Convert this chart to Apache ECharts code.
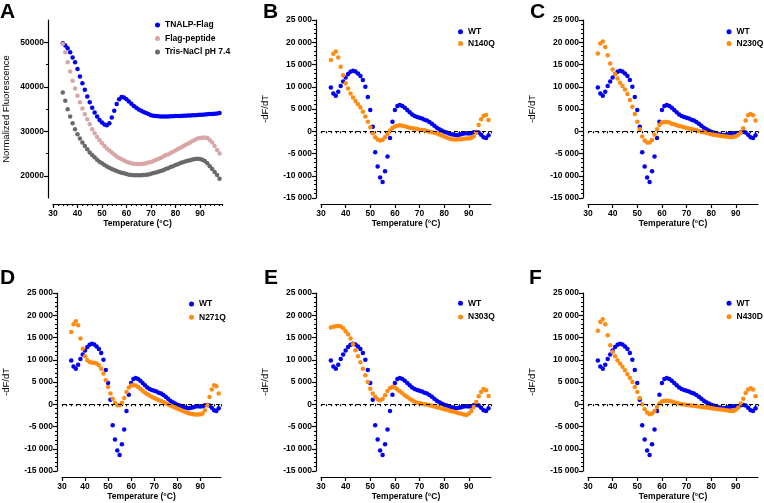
<!DOCTYPE html>
<html>
<head>
<meta charset="utf-8">
<script src="https://cdn.jsdelivr.net/npm/echarts@6/dist/echarts.min.js"></script>
<style>
  html, body { margin: 0; padding: 0; background: #fff; }
  #chart { width: 764px; height: 503px; }
</style>
</head>
<body>
<div id="chart"></div>
<script>
// temperature steps (°C)
const temps = [34, 35, 36, 37, 38, 39, 40, 41, 42, 43, 44, 45, 46, 47, 48, 49, 50, 51, 52, 53,
  54, 55, 56, 57, 58, 59, 60, 61, 62, 63, 64, 65, 66, 67, 68, 69, 70, 71, 72, 73,
  74, 75, 76, 77, 78, 79, 80, 81, 82, 83, 84, 85, 86, 87, 88, 89, 90, 91, 92, 93,
  94, 95, 96, 97, 98]

// panel A: normalized fluorescence
const tnalpFlag = [49800, 49250, 48650, 47750, 46600, 45500, 44000, 42300, 40800, 39300,
  37800, 36500, 35300, 34200, 33300, 32550, 31950, 31500, 31350, 31800,
  33100, 34600, 36100, 37200, 37700, 37600, 37200, 36700, 36200, 35700,
  35300, 34900, 34600, 34300, 34100, 33900, 33600, 33500, 33400, 33350,
  33300, 33300, 33300, 33300, 33350, 33350, 33400, 33450, 33450, 33500,
  33500, 33550, 33550, 33600, 33600, 33650, 33700, 33700, 33750, 33800,
  33850, 33900, 33950, 34000, 34100]
const flagPeptide = [49600, 47750, 45500, 43400, 41350, 39600, 38000, 36500, 35100, 33800,
  32700, 31600, 30450, 29550, 28700, 28000, 27300, 26700, 26150, 25650,
  25200, 24750, 24350, 24000, 23700, 23400, 23150, 22950, 22800, 22700,
  22650, 22650, 22650, 22700, 22800, 22950, 23100, 23300, 23550, 23750,
  24000, 24300, 24600, 24800, 25100, 25400, 25700, 26000, 26300, 26600,
  26900, 27200, 27500, 27800, 28100, 28350, 28500, 28550, 28600, 28500,
  28050, 27450, 26700, 25800, 25000]
const trisNaCl = [38700, 36850, 34950, 33300, 31800, 30450, 29300, 28350, 27450, 26700,
  25950, 25250, 24650, 24150, 23600, 23150, 22800, 22400, 22100, 21800,
  21500, 21300, 21050, 20850, 20700, 20550, 20400, 20250, 20150, 20100,
  20100, 20100, 20100, 20150, 20250, 20300, 20450, 20600, 20750, 20900,
  21050, 21250, 21500, 21700, 21950, 22150, 22400, 22600, 22850, 23050,
  23200, 23350, 23500, 23650, 23750, 23800, 23750, 23600, 23300, 22800,
  22150, 21500, 20850, 20150, 19300]

// panels B-F: -dF/dT
const wt = [9850, 8500, 8000, 8900, 10150, 11200, 12100, 12850, 13350, 13600,
  13450, 13000, 12400, 11500, 10000, 7700, 4800, 1000, -4700, -7900,
  -10400, -11400, -9000, -5700, -1500, 2150, 4800, 5650, 5900, 5650,
  5300, 4800, 4250, 3750, 3450, 3200, 3050, 2850, 2600, 2400,
  2100, 1700, 1250, 800, 450, 150, -100, -300, -500, -650,
  -800, -900, -800, -650, -500, -450, -500, -450, -200, -150,
  -300, -800, -1350, -1500, -900]
const n140q = [16000, 17400, 17900, 16600, 14500, 12600, 10800, 9600, 8500, 7600,
  6800, 6050, 5350, 4400, 3300, 2150, 900, -450, -1350, -1850,
  -2100, -1950, -1350, -600, 150, 750, 1050, 1250, 1350, 1250,
  1100, 950, 800, 650, 600, 500, 350, 300, 200, 50,
  -100, -200, -350, -500, -750, -950, -1200, -1400, -1650, -1800,
  -1850, -1850, -1800, -1800, -1700, -1650, -1650, -1500, -1200, -300,
  1400, 2700, 3500, 3650, 2550]
const n230q = [17450, 19700, 20150, 18950, 17100, 15200, 13900, 12850, 11850, 10900,
  10150, 9400, 8350, 7000, 5500, 3900, 2150, 450, -1200, -2100,
  -2550, -2550, -1950, -800, 450, 1400, 1950, 2100, 2100, 1950,
  1700, 1550, 1350, 1200, 1050, 900, 750, 600, 500, 350,
  200, 50, -100, -200, -350, -500, -650, -800, -900, -950,
  -1050, -1100, -1200, -1250, -1350, -1250, -1100, -800, -300, 650,
  2400, 3600, 3900, 3600, 2400]
const n271q = [16250, 18000, 18650, 17750, 14750, 12500, 10800, 9900, 9500, 9350,
  9300, 9150, 8750, 8000, 6900, 5400, 3900, 2400, 1250, 300,
  -200, -200, 350, 1400, 2750, 3750, 4200, 4250, 4200, 3900,
  3500, 3050, 2600, 2250, 1950, 1650, 1400, 1200, 950, 750,
  500, 200, 0, -300, -500, -750, -950, -1200, -1400, -1650,
  -1850, -2000, -2150, -2250, -2300, -2300, -2250, -2100, -1350, -200,
  1650, 3300, 4250, 4050, 2400]
const n303q = [17250, 17400, 17550, 17600, 17450, 17100, 16400, 15750, 14750, 13500,
  12150, 10800, 9450, 8000, 6500, 5000, 3500, 2400, 1650, 1100,
  900, 1200, 2000, 3000, 3650, 3900, 3750, 3300, 2900, 2450,
  2000, 1650, 1250, 900, 600, 350, 200, 100, 0, -50,
  -200, -350, -500, -650, -800, -950, -1100, -1250, -1400, -1550,
  -1700, -1850, -2000, -2150, -2300, -2400, -2100, -1500, -600, 500,
  1800, 2750, 3450, 3150, 1850]
const n430d = [16500, 18500, 19100, 18000, 15500, 13250, 11750, 10800, 9900, 9150,
  8400, 7650, 6750, 5900, 5000, 3900, 2750, 1400, 0, -1100,
  -1850, -2250, -2100, -1500, -600, 150, 600, 800, 800, 750,
  600, 450, 300, 150, 0, -50, -150, -200, -300, -350,
  -450, -500, -600, -650, -750, -800, -900, -950, -1050, -1100,
  -1200, -1250, -1350, -1400, -1500, -1500, -1250, -750, 150, 1250,
  2550, 3300, 3600, 3300, 1800]

// tick labels
const xTicks = [30, 40, 50, 60, 70, 80, 90]
const yTicksA = [20000, 30000, 40000, 50000]
const yMinorA = [25000, 35000, 45000]
const yTicksDeriv = [-15000, -10000, -5000, 0, 5000, 10000, 15000, 20000, 25000]

const blue = '#0000f5'
const orange = '#ff8c10'
const font = '"Liberation Sans", Arial, sans-serif'

const panels = [
  { letter: 'A', left: 52, top: 20, lx: 0, ly: 2, yMin: 15000, yMax: 55000, yName: 'Normalized Fluorescence', yGap: 37,
    legend: [155, 20, 3.5],
    series: [['TNALP-Flag', tnalpFlag, blue], ['Flag-peptide', flagPeptide, '#d8a6a6'], ['Tris-NaCl pH 7.4', trisNaCl, '#6a6a6a']] },
  { letter: 'B', left: 321, top: 20, lx: 263, ly: 2, legend: [458, 26.7, 1.7], series: [['WT', wt, blue], ['N140Q', n140q, orange]] },
  { letter: 'C', left: 588, top: 20, lx: 530, ly: 2, legend: [726.5, 26.7, 1.7], series: [['WT', wt, blue], ['N230Q', n230q, orange]] },
  { letter: 'D', left: 51, top: 293, lx: 0, ly: 268, legend: [189, 299, 3.3], series: [['WT', wt, blue], ['N271Q', n271q, orange]] },
  { letter: 'E', left: 321, top: 293, lx: 264, ly: 268, legend: [458, 298.3, 3.7], series: [['WT', wt, blue], ['N303Q', n303q, orange]] },
  { letter: 'F', left: 588, top: 293, lx: 529, ly: 268, legend: [726.5, 298.3, 3.4], series: [['WT', wt, blue], ['N430D', n430d, orange]] }
]

function spaced(v) {
  const s = String(Math.abs(v)).replace(/\B(?=(\d{3})+(?!\d))/g, ' ')
  return (v < 0 ? '-' : '') + s
}

const axisLine = { show: true, onZero: false, lineStyle: { color: '#000', width: 1.2 } }
const tickLine = { color: '#000', width: 1.2 }
const labelStyle = { fontSize: 8.5, fontWeight: 'bold', color: '#000', fontFamily: font }

const grid = [], xAxis = [], yAxis = [], series = [], legend = [], title = []

panels.forEach((p, i) => {
  const isA = p.letter === 'A'
  grid.push({ left: p.left, top: p.top, width: 170, height: 178 })
  title.push({ text: p.letter, left: p.lx, top: p.ly, padding: 0,
    textStyle: { fontSize: 21, fontWeight: 'bold', color: '#000', fontFamily: font } })

  xAxis.push({
    type: 'value', gridIndex: i, position: 'bottom', min: 30, max: 99, offset: 6,
    axisLine, axisTick: { customValues: xTicks, length: 4, lineStyle: tickLine },
    axisLabel: { ...labelStyle, customValues: xTicks, margin: 5 },
    splitLine: { show: false },
    name: 'Temperature (°C)', nameLocation: 'middle', nameGap: 14,
    nameTextStyle: { fontSize: 8.5, fontWeight: 'bold', color: '#000', fontFamily: font }
  })
  xAxis.push({
    type: 'value', gridIndex: i, position: 'bottom', min: 30, max: 99, interval: 2, offset: 6,
    axisLine: { show: false }, axisTick: { length: 2, lineStyle: tickLine },
    axisLabel: { show: false }, splitLine: { show: false }
  })

  const yTicks = isA ? yTicksA : yTicksDeriv
  yAxis.push({
    type: 'value', gridIndex: i, position: 'left',
    min: isA ? p.yMin : -15000, max: isA ? p.yMax : 25000, offset: 5,
    axisLine, axisTick: { customValues: yTicks, length: 4, lineStyle: tickLine },
    axisLabel: { ...labelStyle, customValues: yTicks, margin: 4, formatter: v => isA ? String(v) : spaced(v) },
    splitLine: { show: false },
    name: isA ? p.yName : '-dF/dT', nameLocation: 'middle', nameGap: isA ? p.yGap : 46,
    nameTextStyle: { fontSize: 9.5, color: '#000', fontFamily: font }
  })
  yAxis.push(isA ? {
    type: 'value', gridIndex: i, position: 'left', min: p.yMin, max: p.yMax, offset: 5,
    axisLine: { show: false }, axisTick: { customValues: yMinorA, length: 2, lineStyle: tickLine },
    axisLabel: { show: false }, splitLine: { show: false }
  } : {
    type: 'value', gridIndex: i, position: 'left', min: -15000, max: 25000, interval: 1000, offset: 5,
    axisLine: { show: false }, axisTick: { length: 2, lineStyle: tickLine },
    axisLabel: { show: false }, splitLine: { show: false }
  })

  legend.push({
    left: p.legend[0], top: p.legend[1], orient: 'vertical', padding: 0,
    itemGap: p.legend[2], itemWidth: 5, itemHeight: 5, icon: 'circle',
    textStyle: { fontSize: 8.5, fontWeight: 'bold', color: '#000', fontFamily: font, lineHeight: 10 },
    data: p.series.map(s => s[0])
  })

  p.series.forEach(([name, vals, color], k) => {
    const s = {
      type: 'scatter', name, xAxisIndex: 2 * i, yAxisIndex: 2 * i,
      data: temps.map((t, j) => [t, vals[j]]),
      symbolSize: 4.5, itemStyle: { color, opacity: 1 }, silent: true
    }
    if (!isA && k === 0) {
      s.markLine = {
        silent: true, symbol: ['none', 'none'], label: { show: false },
        lineStyle: { color: '#000', type: [4, 3], width: 1.2, opacity: 1 },
        data: [{ yAxis: 0 }]
      }
    }
    series.push(s)
  })
})

const chart = echarts.init(document.getElementById('chart'))
chart.setOption({
  animation: false,
  backgroundColor: '#fff',
  textStyle: { fontFamily: font },
  title, grid, xAxis, yAxis, legend, series
})
</script>
</body>
</html>
